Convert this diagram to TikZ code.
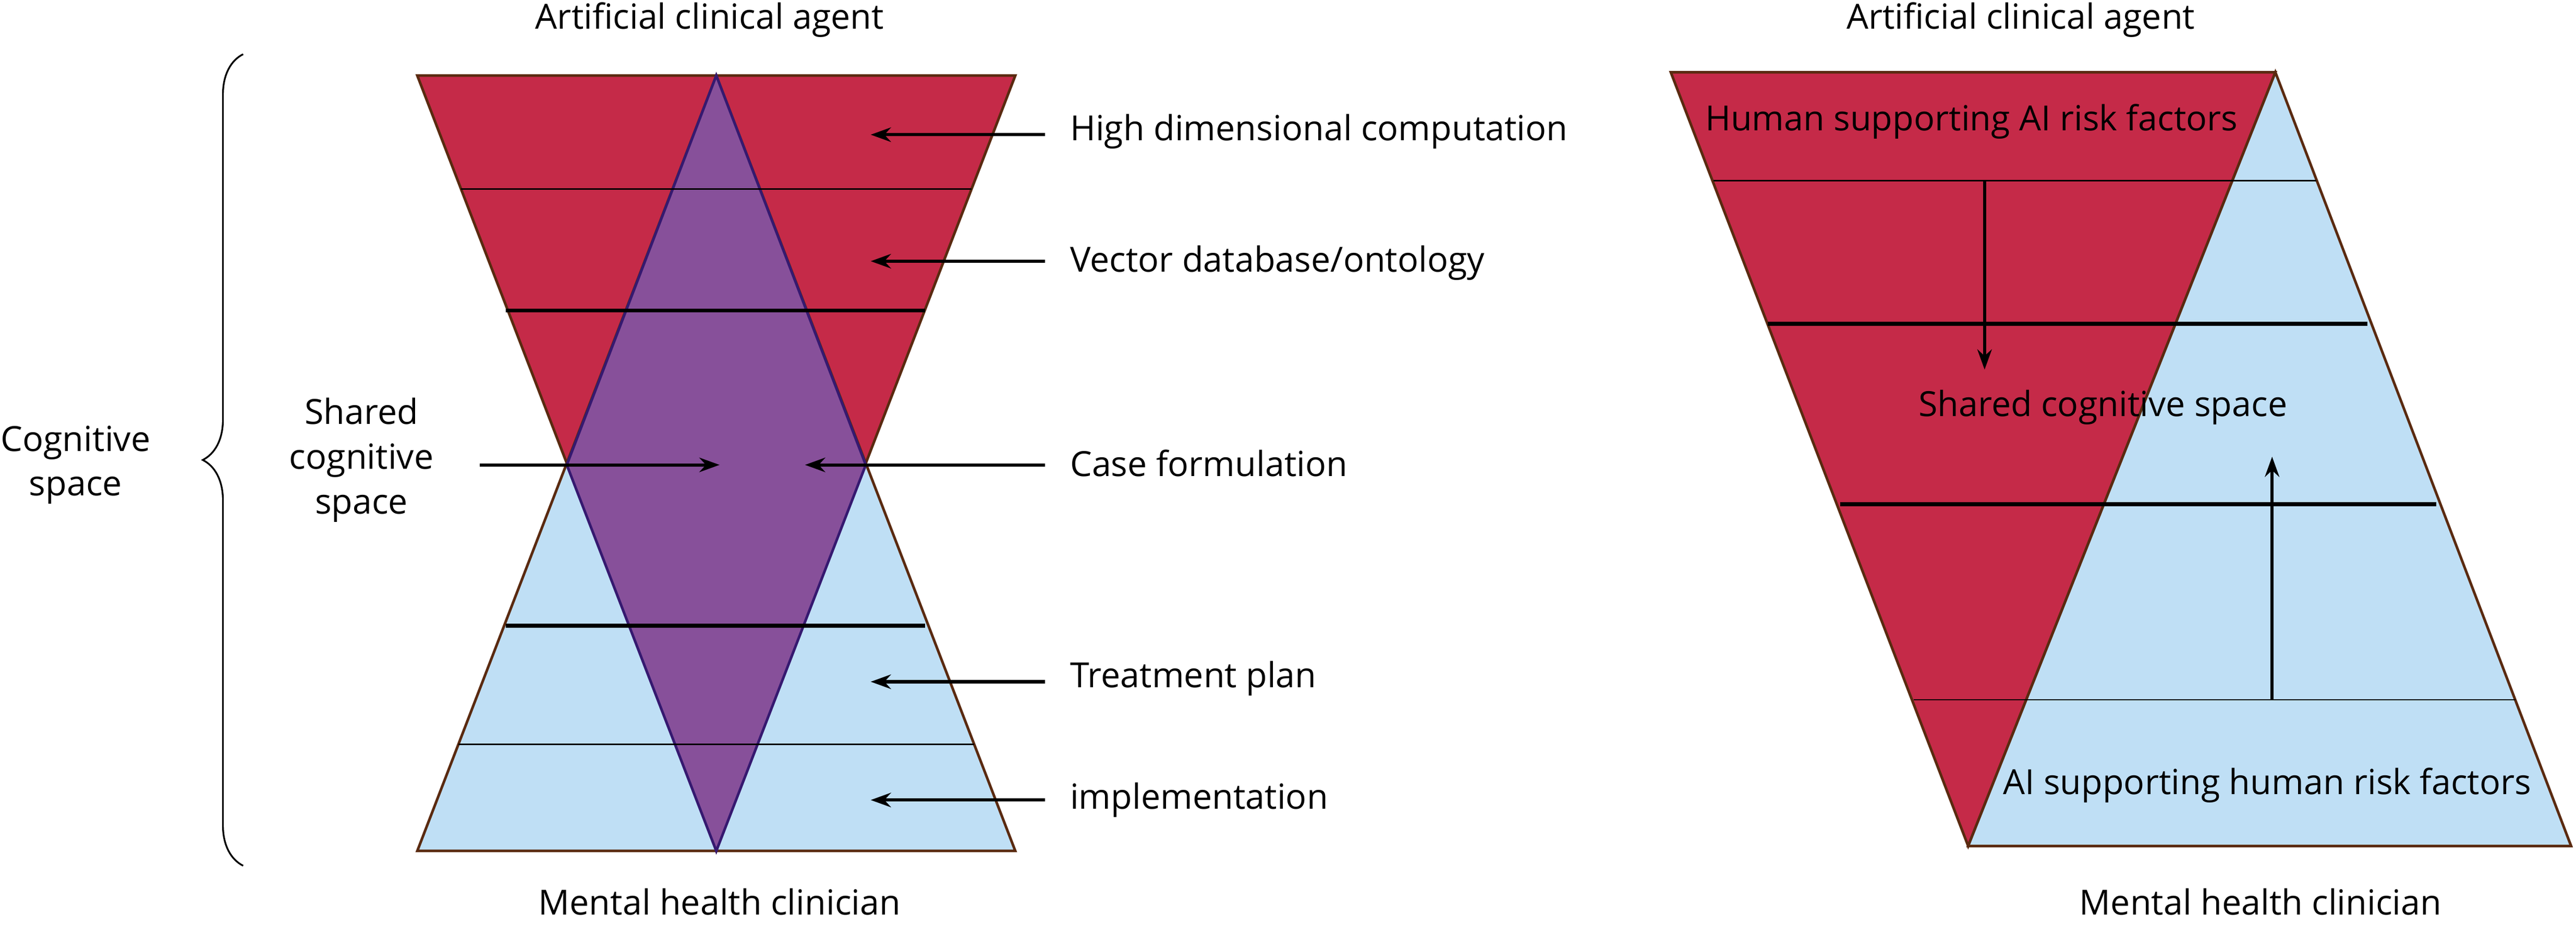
\documentclass[tikz,border=0pt]{standalone}
\usepackage{fontspec}
\setmainfont{Open Sans}
\usetikzlibrary{decorations.pathreplacing,arrows.meta}
\definecolor{cred}{HTML}{C52A48}
\definecolor{cblue}{HTML}{BFDFF5}
\definecolor{cpurp}{HTML}{87509A}
\definecolor{cedge}{HTML}{5A2A10}
\begin{document}
\begin{tikzpicture}[x=0.02cm,y=-0.02cm,
  tri/.style={draw=cedge,line width=0.9pt,line join=miter},
  thin/.style={line width=0.5pt},
  thick/.style={line width=1.4pt},
  arr/.style={line width=1.1pt,-{Stealth[length=7pt,width=5pt]}},
  lbl/.style={font=\fontsize{12}{15}\selectfont,inner sep=0pt},
  every node/.style={lbl}]
\useasboundingbox (0,0) rectangle (1568,563);
% left figure
\draw[tri,fill=cred] (254,46) -- (618,46) -- (436,518) -- cycle;
\draw[tri,fill=cblue] (436,46) -- (618,518) -- (254,518) -- cycle;
\draw[draw=cedge!60!blue,line width=0.9pt,fill=cpurp] (436,46) -- (527,283) -- (436,518) -- (345,283) -- cycle;
\draw[thin] (280.6,115) -- (591.4,115);
\draw[thin] (279,453) -- (593,453);
\draw[thick] (308,189) -- (563,189);
\draw[thick] (308,381) -- (563,381);
\coordinate (a1) at (636,82); \coordinate (b1) at (530,82);
\coordinate (a2) at (636,159); \coordinate (b2) at (530,159);
\coordinate (a3) at (636,283); \coordinate (b3) at (490,283);
\coordinate (a4) at (292,283); \coordinate (b4) at (438,283);
\coordinate (a5) at (636,415); \coordinate (b5) at (530,415);
\coordinate (a6) at (636,487); \coordinate (b6) at (530,487);
\foreach \i in {1,...,6} \draw[arr] (a\i) -- (b\i);
\node[anchor=west] (t1) at (651,80) {High dimensional computation};
\node[anchor=west] (t2) at (651,160) {Vector database/ontology};
\node[anchor=west] (t3) at (651,282) {Case formulation};
\node[anchor=west] (t5) at (651,413) {Treatment plan};
\node[anchor=west] (t6) at (651,487) {implementation};
\node[align=center,font=\fontsize{12}{15.5}\selectfont] (sc) at (220,280) {Shared\\cognitive\\space};
\node[align=center,font=\fontsize{12}{15.5}\selectfont] (cs) at (46,283) {Cognitive\\space};
\draw[line width=0.6pt,decorate,decoration={brace,amplitude=14pt}] (148,527) -- (148,33);
\node (top1) at (432,12) {Artificial clinical agent};
\node (bot1) at (438,549) {Mental health clinician};
% right figure
\draw[tri,fill=cred] (1017,44) -- (1385,44) -- (1198,515) -- cycle;
\draw[tri,fill=cblue] (1385,44) -- (1565,515) -- (1198,515) -- cycle;
\draw[thin] (1043,110) -- (1410,110);
\draw[thin] (1165,426) -- (1531,426);
\draw[thick] (1076,197) -- (1441,197);
\draw[thick] (1120,307) -- (1483,307);
\coordinate (c1) at (1208,110); \coordinate (d1) at (1208,225);
\coordinate (c2) at (1383,426); \coordinate (d2) at (1383,278);
\draw[arr] (c1) -- (d1);
\draw[arr] (c2) -- (d2);
\node (r1) at (1200,74) {Human supporting AI risk factors};
\node (r2) at (1280,248) {Shared cognitive space};
\node (r3) at (1380,478) {AI supporting human risk factors};
\node (top2) at (1230,12) {Artificial clinical agent};
\node (bot2) at (1376,549) {Mental health clinician};
\end{tikzpicture}
\end{document}
